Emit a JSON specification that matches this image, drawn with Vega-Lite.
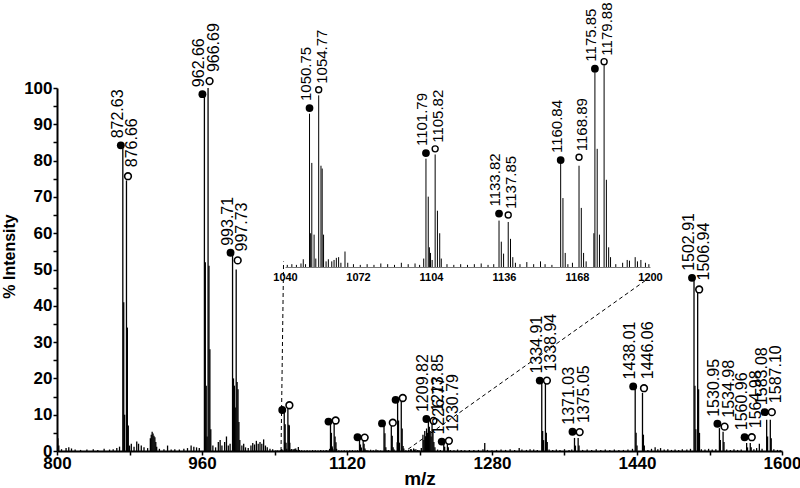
{
  "$schema": "https://vega.github.io/schema/vega-lite/v6.json",
  "width": 725,
  "height": 363,
  "autosize": "none",
  "padding": {"left": 57, "top": 88, "right": 18, "bottom": 37},
  "background": "white",
  "config": {"view": {"stroke": null}, "font": "Liberation Sans"},
  "datasets": {
    "spectrum": [
      {"mz": 801, "int": 3.5}, {"mz": 802, "int": 1.5}, {"mz": 805, "int": 0.5}, {"mz": 810, "int": 0.8}, {"mz": 813, "int": 1.0}, {"mz": 816, "int": 0.7}, {"mz": 820, "int": 0.4}, {"mz": 826, "int": 0.3}, {"mz": 833, "int": 0.4}, {"mz": 840, "int": 0.5}, {"mz": 845, "int": 0.3}, {"mz": 852, "int": 0.6}, {"mz": 858, "int": 0.4}, {"mz": 862, "int": 0.5}, {"mz": 866, "int": 0.8}, {"mz": 869, "int": 1.2},
      {"mz": 872.63, "int": 83.5}, {"mz": 873.63, "int": 41}, {"mz": 874.63, "int": 10}, {"mz": 876.66, "int": 74.5}, {"mz": 877.66, "int": 34}, {"mz": 878.66, "int": 7},
      {"mz": 880, "int": 1.5}, {"mz": 882, "int": 2.0}, {"mz": 885, "int": 1.2}, {"mz": 888, "int": 2.6}, {"mz": 890, "int": 2.0}, {"mz": 893, "int": 1.5}, {"mz": 896, "int": 1.0}, {"mz": 900, "int": 0.8}, {"mz": 903, "int": 3.5}, {"mz": 904, "int": 4.5}, {"mz": 905, "int": 5.3}, {"mz": 906, "int": 4.8}, {"mz": 907, "int": 4.2}, {"mz": 908, "int": 3.8}, {"mz": 909, "int": 2.5}, {"mz": 910, "int": 1.2}, {"mz": 913, "int": 0.6}, {"mz": 918, "int": 0.5}, {"mz": 922, "int": 1.5}, {"mz": 926, "int": 0.4}, {"mz": 930, "int": 0.5}, {"mz": 935, "int": 0.4}, {"mz": 940, "int": 0.6}, {"mz": 944, "int": 0.8}, {"mz": 948, "int": 1.5}, {"mz": 951, "int": 1.2}, {"mz": 954, "int": 1.0}, {"mz": 957, "int": 0.8},
      {"mz": 962.66, "int": 98}, {"mz": 963.66, "int": 52}, {"mz": 964.66, "int": 18}, {"mz": 965.66, "int": 4}, {"mz": 966.69, "int": 100}, {"mz": 967.69, "int": 51}, {"mz": 968.69, "int": 28}, {"mz": 969.69, "int": 6},
      {"mz": 972, "int": 1.5}, {"mz": 975, "int": 1.0}, {"mz": 978, "int": 2.5}, {"mz": 980, "int": 3.0}, {"mz": 982, "int": 1.5}, {"mz": 985, "int": 2.5}, {"mz": 987, "int": 4.0}, {"mz": 989, "int": 1.5}, {"mz": 991, "int": 2.0},
      {"mz": 993.71, "int": 54}, {"mz": 994.71, "int": 20}, {"mz": 995.71, "int": 18}, {"mz": 996.71, "int": 12}, {"mz": 997.73, "int": 50}, {"mz": 998.73, "int": 19}, {"mz": 999.73, "int": 17}, {"mz": 1000.73, "int": 8}, {"mz": 1001.73, "int": 3},
      {"mz": 1004, "int": 1.5}, {"mz": 1006, "int": 2.0}, {"mz": 1008, "int": 1.0}, {"mz": 1011, "int": 0.8}, {"mz": 1014, "int": 1.5}, {"mz": 1016, "int": 2.2}, {"mz": 1018, "int": 1.8}, {"mz": 1020, "int": 2.8}, {"mz": 1022, "int": 2.0}, {"mz": 1024, "int": 2.5}, {"mz": 1026, "int": 2.0}, {"mz": 1028, "int": 3.2}, {"mz": 1030, "int": 1.5}, {"mz": 1032, "int": 1.0}, {"mz": 1035, "int": 0.6}, {"mz": 1038, "int": 0.5},
      {"mz": 1041, "int": 0.15}, {"mz": 1043, "int": 0.2}, {"mz": 1045, "int": 0.15}, {"mz": 1047, "int": 0.25}, {"mz": 1048, "int": 0.55}, {"mz": 1049, "int": 0.2},
      {"mz": 1050.75, "int": 10.9}, {"mz": 1051.25, "int": 2.4}, {"mz": 1051.75, "int": 7.4}, {"mz": 1052.75, "int": 2.3}, {"mz": 1053.5, "int": 0.6},
      {"mz": 1054.77, "int": 12.2}, {"mz": 1055.77, "int": 7.2}, {"mz": 1056.3, "int": 7.0}, {"mz": 1056.9, "int": 2.3},
      {"mz": 1058, "int": 0.4}, {"mz": 1059, "int": 0.55}, {"mz": 1060.5, "int": 0.4}, {"mz": 1061.5, "int": 0.5}, {"mz": 1062.5, "int": 0.65}, {"mz": 1063.5, "int": 0.7}, {"mz": 1064.5, "int": 0.3}, {"mz": 1066.3, "int": 1.1}, {"mz": 1067.5, "int": 0.3}, {"mz": 1070, "int": 0.2}, {"mz": 1073, "int": 0.15}, {"mz": 1076, "int": 0.2}, {"mz": 1079, "int": 0.15}, {"mz": 1082, "int": 0.25}, {"mz": 1085, "int": 0.2}, {"mz": 1088, "int": 0.15}, {"mz": 1091, "int": 0.3}, {"mz": 1094, "int": 0.2}, {"mz": 1097, "int": 0.25}, {"mz": 1099, "int": 0.15},
      {"mz": 1100.8, "int": 0.6}, {"mz": 1101.79, "int": 7.7}, {"mz": 1102.79, "int": 5.0}, {"mz": 1103.3, "int": 1.4}, {"mz": 1103.79, "int": 1.0}, {"mz": 1104.5, "int": 0.5}, {"mz": 1105.82, "int": 8.0}, {"mz": 1106.82, "int": 4.0}, {"mz": 1107.82, "int": 2.4}, {"mz": 1108.5, "int": 0.6},
      {"mz": 1111, "int": 0.2}, {"mz": 1114, "int": 0.15}, {"mz": 1117, "int": 0.2}, {"mz": 1120, "int": 0.15}, {"mz": 1123, "int": 0.2}, {"mz": 1126, "int": 0.25}, {"mz": 1129, "int": 0.15}, {"mz": 1131.5, "int": 0.2},
      {"mz": 1133.82, "int": 3.3}, {"mz": 1134.82, "int": 1.8}, {"mz": 1135.82, "int": 0.95}, {"mz": 1137.85, "int": 3.2}, {"mz": 1138.85, "int": 2.0}, {"mz": 1139.85, "int": 0.7},
      {"mz": 1141, "int": 0.3}, {"mz": 1143, "int": 0.2}, {"mz": 1146, "int": 0.35}, {"mz": 1149, "int": 0.2}, {"mz": 1152, "int": 0.4}, {"mz": 1154, "int": 0.2}, {"mz": 1157, "int": 0.15},
      {"mz": 1160.84, "int": 7.4}, {"mz": 1161.84, "int": 4.9}, {"mz": 1162.84, "int": 1.0}, {"mz": 1164, "int": 0.2}, {"mz": 1166, "int": 0.3},
      {"mz": 1168.89, "int": 7.2}, {"mz": 1169.89, "int": 4.2}, {"mz": 1170.89, "int": 1.0}, {"mz": 1172, "int": 0.4},
      {"mz": 1175.4, "int": 2.4}, {"mz": 1175.85, "int": 14.0}, {"mz": 1176.85, "int": 8.4}, {"mz": 1177.85, "int": 2.3},
      {"mz": 1179.88, "int": 14.6}, {"mz": 1180.88, "int": 6.2}, {"mz": 1181.88, "int": 1.4}, {"mz": 1182.7, "int": 0.7},
      {"mz": 1185, "int": 0.2}, {"mz": 1188, "int": 0.3}, {"mz": 1190, "int": 0.5}, {"mz": 1191, "int": 0.45}, {"mz": 1193.5, "int": 0.7}, {"mz": 1194.5, "int": 0.4}, {"mz": 1196, "int": 0.5}, {"mz": 1198, "int": 0.3}, {"mz": 1199.5, "int": 0.2},
      {"mz": 1202, "int": 0.8}, {"mz": 1203.8, "int": 4.5}, {"mz": 1204.8, "int": 3}, {"mz": 1205.8, "int": 5.5}, {"mz": 1206.8, "int": 4}, {"mz": 1207.8, "int": 6.2}, {"mz": 1208.8, "int": 5}, {"mz": 1209.82, "int": 8.5}, {"mz": 1210.82, "int": 6.7}, {"mz": 1211.82, "int": 5.5}, {"mz": 1212.8, "int": 4}, {"mz": 1213.85, "int": 7.6}, {"mz": 1214.85, "int": 6.0}, {"mz": 1215.85, "int": 2.5}, {"mz": 1217, "int": 1}, {"mz": 1220, "int": 0.4}, {"mz": 1223, "int": 0.3},
      {"mz": 1226.77, "int": 2.2}, {"mz": 1227.77, "int": 1.2}, {"mz": 1230.79, "int": 2.2}, {"mz": 1231.79, "int": 1.0},
      {"mz": 1234, "int": 0.3}, {"mz": 1238, "int": 0.2}, {"mz": 1242, "int": 0.4}, {"mz": 1246, "int": 0.3}, {"mz": 1250, "int": 0.2}, {"mz": 1255, "int": 0.3}, {"mz": 1260, "int": 0.25}, {"mz": 1265, "int": 0.3}, {"mz": 1270, "int": 0.5}, {"mz": 1272, "int": 2.2}, {"mz": 1275, "int": 0.3}, {"mz": 1280, "int": 0.2}, {"mz": 1285, "int": 0.3}, {"mz": 1290, "int": 0.4}, {"mz": 1295, "int": 0.3}, {"mz": 1300, "int": 0.5}, {"mz": 1305, "int": 0.3}, {"mz": 1310, "int": 0.8}, {"mz": 1313, "int": 0.4}, {"mz": 1318, "int": 0.3}, {"mz": 1322, "int": 0.5}, {"mz": 1326, "int": 0.4}, {"mz": 1330, "int": 0.3},
      {"mz": 1334.91, "int": 19.2}, {"mz": 1335.91, "int": 5.5}, {"mz": 1336.91, "int": 3}, {"mz": 1338.94, "int": 19}, {"mz": 1339.94, "int": 5}, {"mz": 1340.94, "int": 2.5},
      {"mz": 1343, "int": 0.4}, {"mz": 1347, "int": 0.3}, {"mz": 1351, "int": 0.4}, {"mz": 1355, "int": 0.3}, {"mz": 1360, "int": 0.5}, {"mz": 1365, "int": 0.3}, {"mz": 1368, "int": 0.4},
      {"mz": 1371.03, "int": 3.6}, {"mz": 1372.03, "int": 1.5}, {"mz": 1375.05, "int": 3.6}, {"mz": 1376.05, "int": 1.5},
      {"mz": 1380, "int": 0.3}, {"mz": 1385, "int": 0.4}, {"mz": 1390, "int": 0.3}, {"mz": 1395, "int": 0.5}, {"mz": 1400, "int": 0.3}, {"mz": 1405, "int": 0.4}, {"mz": 1410, "int": 0.3}, {"mz": 1415, "int": 0.4}, {"mz": 1420, "int": 0.3}, {"mz": 1425, "int": 0.3}, {"mz": 1430, "int": 0.4}, {"mz": 1435, "int": 0.6},
      {"mz": 1438.01, "int": 17.4}, {"mz": 1439.01, "int": 5}, {"mz": 1440.01, "int": 1.5}, {"mz": 1446.06, "int": 16}, {"mz": 1447.06, "int": 4.5}, {"mz": 1448.06, "int": 1.5},
      {"mz": 1452, "int": 0.3}, {"mz": 1456, "int": 0.6}, {"mz": 1460, "int": 1.0}, {"mz": 1463, "int": 0.5}, {"mz": 1466, "int": 0.8}, {"mz": 1470, "int": 0.4}, {"mz": 1474, "int": 0.5}, {"mz": 1478, "int": 0.3}, {"mz": 1482, "int": 0.4}, {"mz": 1486, "int": 0.3}, {"mz": 1490, "int": 0.5}, {"mz": 1495, "int": 0.4}, {"mz": 1499, "int": 0.6},
      {"mz": 1502.91, "int": 47}, {"mz": 1503.91, "int": 18}, {"mz": 1504.91, "int": 6}, {"mz": 1506.94, "int": 44}, {"mz": 1507.94, "int": 17}, {"mz": 1508.94, "int": 5},
      {"mz": 1511, "int": 0.5}, {"mz": 1515, "int": 0.4}, {"mz": 1519, "int": 0.6}, {"mz": 1523, "int": 0.4}, {"mz": 1527, "int": 0.5},
      {"mz": 1530.95, "int": 6.3}, {"mz": 1531.95, "int": 3}, {"mz": 1534.98, "int": 5.3}, {"mz": 1535.98, "int": 2.5},
      {"mz": 1539, "int": 0.4}, {"mz": 1543, "int": 0.3}, {"mz": 1547, "int": 0.5}, {"mz": 1551, "int": 0.3}, {"mz": 1555, "int": 0.4},
      {"mz": 1560.96, "int": 2.2}, {"mz": 1561.96, "int": 1}, {"mz": 1564.98, "int": 2.2}, {"mz": 1565.98, "int": 1},
      {"mz": 1569, "int": 0.5}, {"mz": 1572, "int": 0.8}, {"mz": 1575, "int": 2.0}, {"mz": 1578, "int": 0.6},
      {"mz": 1583.08, "int": 8.6}, {"mz": 1584.08, "int": 4}, {"mz": 1587.10, "int": 8.6}, {"mz": 1588.1, "int": 3.5},
      {"mz": 1591, "int": 0.5}, {"mz": 1595, "int": 0.3}, {"mz": 1598, "int": 0.3}
    ],
    "peaks": [
      {"mz": 872.63, "int": 84.2, "type": "filled", "label": "872.63"},
      {"mz": 876.66, "int": 75.7, "type": "open", "label": "876.66"},
      {"mz": 962.66, "int": 98.3, "type": "filled", "label": "962.66"},
      {"mz": 966.69, "int": 101.9, "type": "open", "label": "966.69"},
      {"mz": 993.71, "int": 54.6, "type": "filled", "label": "993.71"},
      {"mz": 997.73, "int": 52.5, "type": "open", "label": "997.73"},
      {"mz": 1050.75, "int": 11.3, "type": "filled", "label": "1050.75"},
      {"mz": 1054.77, "int": 12.6, "type": "open", "label": "1054.77"},
      {"mz": 1101.79, "int": 8.1, "type": "filled", "label": "1101.79"},
      {"mz": 1105.82, "int": 8.4, "type": "open", "label": "1105.82"},
      {"mz": 1133.82, "int": 3.8, "type": "filled", "label": "1133.82"},
      {"mz": 1137.85, "int": 3.7, "type": "open", "label": "1137.85"},
      {"mz": 1160.84, "int": 7.6, "type": "filled", "label": "1160.84"},
      {"mz": 1168.89, "int": 7.8, "type": "open", "label": "1168.89"},
      {"mz": 1175.85, "int": 14.1, "type": "filled", "label": "1175.85"},
      {"mz": 1179.88, "int": 14.6, "type": "open", "label": "1179.88"},
      {"mz": 1209.82, "int": 8.8, "type": "filled", "label": "1209.82"},
      {"mz": 1213.85, "int": 8.3, "type": "open", "label": "1213.85"},
      {"mz": 1226.77, "int": 2.6, "type": "filled", "label": "1226.77"},
      {"mz": 1230.79, "int": 2.8, "type": "open", "label": "1230.79"},
      {"mz": 1334.91, "int": 19.4, "type": "filled", "label": "1334.91"},
      {"mz": 1338.94, "int": 19.4, "type": "open", "label": "1338.94"},
      {"mz": 1371.03, "int": 5.3, "type": "filled", "label": "1371.03"},
      {"mz": 1375.05, "int": 5.2, "type": "open", "label": "1375.05"},
      {"mz": 1438.01, "int": 17.8, "type": "filled", "label": "1438.01"},
      {"mz": 1446.06, "int": 17.3, "type": "open", "label": "1446.06"},
      {"mz": 1502.91, "int": 47.7, "type": "filled", "label": "1502.91"},
      {"mz": 1506.94, "int": 44.5, "type": "open", "label": "1506.94"},
      {"mz": 1530.95, "int": 7.5, "type": "filled", "label": "1530.95"},
      {"mz": 1534.98, "int": 6.7, "type": "open", "label": "1534.98"},
      {"mz": 1560.96, "int": 3.8, "type": "filled", "label": "1560.96"},
      {"mz": 1564.98, "int": 3.8, "type": "open", "label": "1564.98"},
      {"mz": 1583.08, "int": 10.7, "type": "filled", "label": "1583.08"},
      {"mz": 1587.10, "int": 10.7, "type": "open", "label": "1587.10"}
    ],
    "links": [
      {"mz": 1047.2, "int": 0, "mz2": 1050.0, "int2": 52.2},
      {"mz": 1187.4, "int": 0.5, "mz2": 1452.3, "int2": 47.5}
    ]
  },
  "layer": [
    {
      "encoding": {
        "x": {
          "field": "mz", "type": "quantitative",
          "scale": {"domain": [800, 1600], "nice": false, "zero": false},
          "axis": {
            "values": [800, 880, 960, 1040, 1120, 1200, 1280, 1360, 1440, 1520, 1600],
            "labelExpr": "datum.value % 160 === 0 ? datum.label : ''",
            "format": "d",
            "grid": false, "tickSize": 4, "tickWidth": 1.5, "tickColor": "black",
            "domainColor": "black", "domainWidth": 2,
            "labelFontSize": 17, "labelFontWeight": "bold", "labelColor": "black", "labelPadding": 0,
            "labelFont": "Liberation Sans", "labelFlush": false, "labelOverlap": false,
            "title": "m/z", "titleFontSize": 19, "titleFontWeight": "bold", "titleColor": "black",
            "titleFont": "Liberation Sans", "titleBaseline": "alphabetic", "titleY": 33
          }
        },
        "y": {
          "field": "int", "type": "quantitative",
          "scale": {"domain": [0, 100], "nice": false},
          "axis": {
            "values": [0, 5, 10, 15, 20, 25, 30, 35, 40, 45, 50, 55, 60, 65, 70, 75, 80, 85, 90, 95, 100],
            "labelExpr": "datum.value % 10 === 0 ? datum.label : ''",
            "grid": false, "tickSize": 4, "tickWidth": 1.5, "tickColor": "black",
            "domainColor": "black", "domainWidth": 2,
            "labelFontSize": 17, "labelFontWeight": "bold", "labelColor": "black", "labelPadding": 1,
            "labelFont": "Liberation Sans", "labelFlush": false, "labelOverlap": false,
            "title": "% Intensity", "titleFontSize": 16, "titleFontWeight": "bold", "titleColor": "black",
            "titleFont": "Liberation Sans", "titleBaseline": "middle", "titleAlign": "center",
            "titleX": -48, "titleY": 168
          }
        }
      },
      "layer": [
        {
          "data": {"name": "spectrum"},
          "mark": {"type": "rule", "color": "black", "strokeWidth": 1.3},
          "encoding": {"y2": {"datum": 0}}
        },
        {
          "data": {"name": "links"},
          "mark": {"type": "rule", "color": "black", "strokeWidth": 1, "strokeDash": [4, 3]},
          "encoding": {"x2": {"field": "mz2"}, "y2": {"field": "int2"}}
        },
        {
          "data": {"name": "peaks"},
          "transform": [{"filter": "datum.type === 'filled'"}],
          "mark": {"type": "point", "shape": "circle", "filled": true, "color": "black", "size": 62, "opacity": 1, "xOffset": -2}
        },
        {
          "data": {"name": "peaks"},
          "transform": [{"filter": "datum.type === 'open'"}],
          "mark": {"type": "point", "shape": "circle", "filled": false, "fill": "white", "stroke": "black", "strokeWidth": 1.6, "size": 45, "opacity": 1, "fillOpacity": 1, "xOffset": 1.5}
        },
        {
          "data": {"name": "peaks"},
          "transform": [{"filter": "datum.type === 'filled' && (datum.mz < 1040 || datum.mz > 1200)"}],
          "mark": {"type": "text", "angle": 270, "align": "left", "baseline": "middle", "dx": 7, "dy": -5, "fontSize": 16, "font": "Liberation Sans", "color": "black"},
          "encoding": {"text": {"field": "label"}}
        },
        {
          "data": {"name": "peaks"},
          "transform": [{"filter": "datum.type === 'open' && (datum.mz < 1040 || datum.mz > 1200)"}],
          "mark": {"type": "text", "angle": 270, "align": "left", "baseline": "middle", "dx": 9, "dy": 6, "fontSize": 16, "font": "Liberation Sans", "color": "black"},
          "encoding": {"text": {"field": "label"}}
        }
      ]
    },
    {
      "encoding": {
        "x": {
          "field": "mz", "type": "quantitative",
          "scale": {"domain": [1040, 1200], "nice": false, "zero": false, "range": [228, 593]},
          "axis": {
            "orient": "bottom", "offset": -184,
            "values": [1040, 1072, 1104, 1136, 1168, 1200],
            "format": "d", "grid": false, "ticks": false,
            "domainColor": "#777777", "domainWidth": 1,
            "labelFontSize": 11, "labelFontWeight": "bold", "labelColor": "black", "labelPadding": 4,
            "labelFont": "Liberation Sans", "labelFlush": false, "labelOverlap": false,
            "title": null
          }
        },
        "y": {
          "field": "int", "type": "quantitative",
          "scale": {"domain": [0, 15], "nice": false, "range": [179, -32]},
          "axis": null
        }
      },
      "layer": [
        {
          "data": {"name": "spectrum"},
          "transform": [{"filter": "datum.mz >= 1040 && datum.mz <= 1200"}],
          "mark": {"type": "rule", "color": "black", "strokeWidth": 1},
          "encoding": {"y2": {"datum": 0}}
        },
        {
          "data": {"name": "peaks"},
          "transform": [{"filter": "datum.type === 'filled' && datum.mz >= 1040 && datum.mz <= 1200"}],
          "mark": {"type": "point", "shape": "circle", "filled": true, "color": "black", "size": 60, "opacity": 1}
        },
        {
          "data": {"name": "peaks"},
          "transform": [{"filter": "datum.type === 'open' && datum.mz >= 1040 && datum.mz <= 1200"}],
          "mark": {"type": "point", "shape": "circle", "filled": false, "fill": "white", "stroke": "black", "strokeWidth": 1.4, "size": 36, "opacity": 1, "fillOpacity": 1}
        },
        {
          "data": {"name": "peaks"},
          "transform": [{"filter": "datum.type === 'filled' && datum.mz >= 1040 && datum.mz <= 1200"}],
          "mark": {"type": "text", "angle": 270, "align": "left", "baseline": "middle", "dx": 7, "dy": -4, "fontSize": 15, "font": "Liberation Sans", "color": "black"},
          "encoding": {"text": {"field": "label"}}
        },
        {
          "data": {"name": "peaks"},
          "transform": [{"filter": "datum.type === 'open' && datum.mz >= 1040 && datum.mz <= 1200"}],
          "mark": {"type": "text", "angle": 270, "align": "left", "baseline": "middle", "dx": 6, "dy": 3, "fontSize": 15, "font": "Liberation Sans", "color": "black"},
          "encoding": {"text": {"field": "label"}}
        }
      ]
    }
  ],
  "resolve": {
    "scale": {"x": "independent", "y": "independent"},
    "axis": {"x": "independent", "y": "independent"}
  }
}
